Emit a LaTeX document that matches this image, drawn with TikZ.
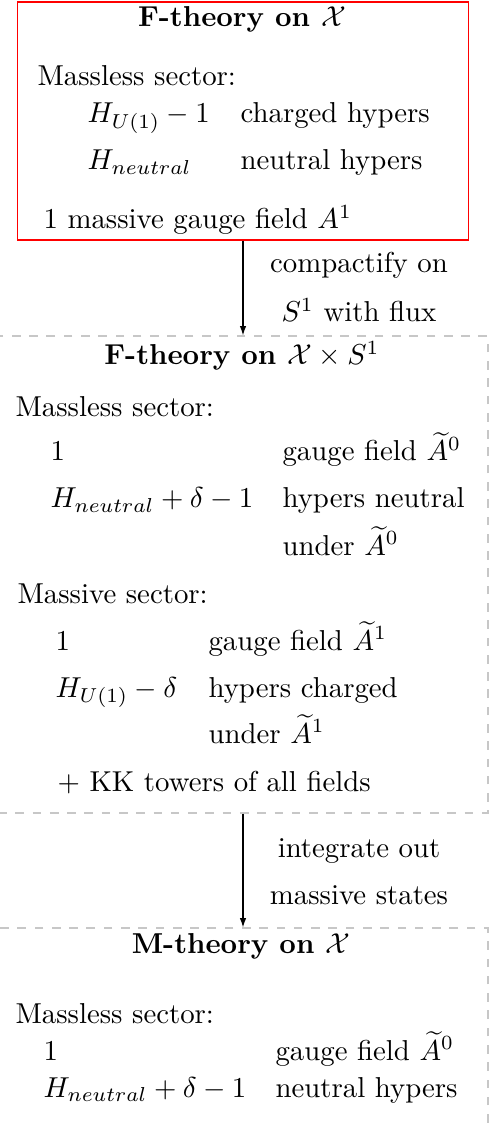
\documentclass[tikz,border=0pt]{standalone}
\usepackage{amsmath,amssymb}
\usepackage{xcolor}
\usepackage{tikz}
\usetikzlibrary{arrows.meta}

\begin{document}
\begin{tikzpicture}[
  x=0.3472pt, y=-0.3472pt,
  fbox/.style={draw=red, minimum width=156.6pt, minimum height=82.6pt,
               inner sep=0pt},
  dbox/.style={draw=black!22, dashed, minimum width=170.1pt,
               inner sep=0pt},
  ttl/.style={anchor=base, inner sep=0pt, font=\bfseries},
  txt/.style={anchor=base west, inner sep=0pt},
  lbl/.style={anchor=base, inner sep=0pt},
  ar/.style={-{Latex[length=3.2pt,width=2.2pt]}},
]
  \useasboundingbox (0,0) rectangle (492,1126);

  %% Boxes
  \node[fbox] (fx) at (243,121) {};
  \node[dbox, minimum height=165.6pt] (fxs) at (243,574.5) {};
  \node[dbox, minimum height=71.5pt]  (mx)  at (243,1031) {};

  %% F-theory on X
  \node[ttl] (t1) at (242,27) {F-theory on $\mathcal{X}$};
  \node[txt] (ml1) at (37,86)  {Massless sector:};
  \node[txt] (a1)  at (87,123) {$H_{U(1)}-1$};
  \node[txt] (b1)  at (240,123) {charged hypers};
  \node[txt] (a2)  at (87,170) {$H_{neutral}$};
  \node[txt] (b2)  at (240,170) {neutral hypers};
  \node[txt] (mg)  at (43,229) {1 massive gauge field $A^1$};

  %% compactification step
  \node[lbl] (cp1) at (359,273) {compactify on};
  \node[lbl] (cp2) at (359,322) {$S^1$ with flux};

  %% F-theory on X x S^1
  \node[ttl] (t2) at (242,365) {F-theory on $\mathcal{X}\times S^1$};
  \node[txt] (ml2) at (15,417)  {Massless sector:};
  \node[txt] (c1)  at (50,461)  {1};
  \node[txt] (d1)  at (282,461) {gauge field $\widetilde{A}^0$};
  \node[txt] (c2)  at (50,508)  {$H_{neutral}+\delta-1$};
  \node[txt] (d2)  at (282,508) {hypers neutral};
  \node[txt] (d3)  at (282,555) {under $\widetilde{A}^0$};
  \node[txt] (ms)  at (17,603)  {Massive sector:};
  \node[txt] (e1)  at (55,650)  {1};
  \node[txt] (f1)  at (208,650) {gauge field $\widetilde{A}^1$};
  \node[txt] (e2)  at (55,697)  {$H_{U(1)}-\delta$};
  \node[txt] (f2)  at (208,697) {hypers charged};
  \node[txt] (f3)  at (208,743) {under $\widetilde{A}^1$};
  \node[txt] (kk)  at (57,791)  {$+$ KK towers of all fields};

  %% integrating out
  \node[lbl] (io1) at (359,857) {integrate out};
  \node[lbl] (io2) at (359,904) {massive states};

  %% M-theory on X
  \node[ttl] (t3) at (241,953) {M-theory on $\mathcal{X}$};
  \node[txt] (ml3) at (15,1023)  {Massless sector:};
  \node[txt] (g1)  at (43,1060)  {1};
  \node[txt] (h1)  at (275,1060) {gauge field $\widetilde{A}^0$};
  \node[txt] (g2)  at (43,1097)  {$H_{neutral}+\delta-1$};
  \node[txt] (h2)  at (275,1097) {neutral hypers};

  %% arrows
  \foreach \a/\b in {fx/fxs, fxs/mx}
    \draw[ar] (\a) -- (\b);
\end{tikzpicture}
\end{document}
